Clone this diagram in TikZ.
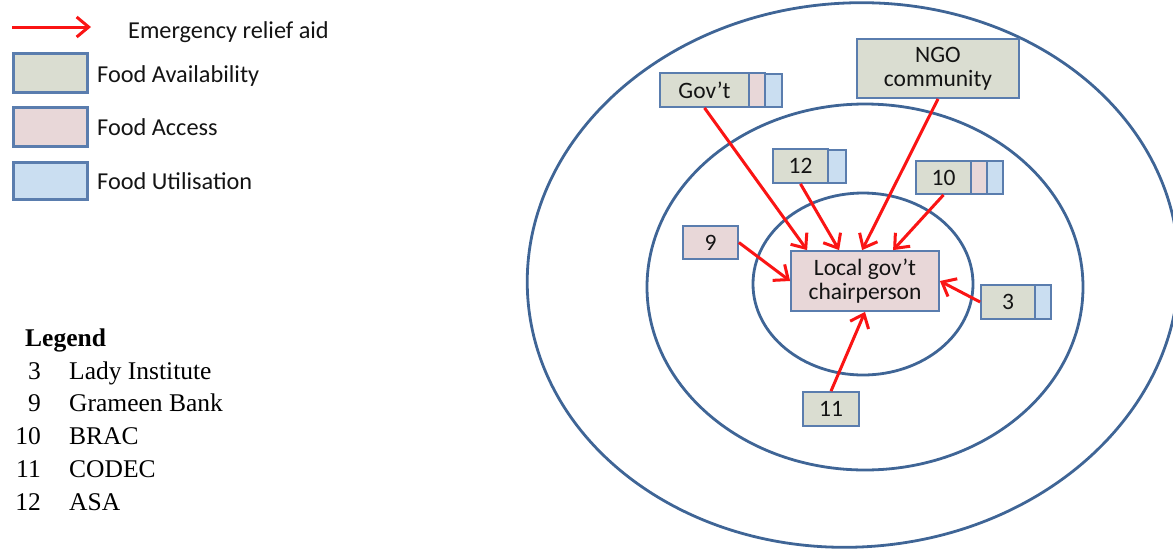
\documentclass[tikz,border=0pt]{standalone}
\usepackage{fontspec}
\setmainfont{Carlito}
\newfontfamily\serifleg{Liberation Serif}
\usetikzlibrary{arrows.meta}

\definecolor{availc}{HTML}{DADDD1}
\definecolor{accessc}{HTML}{E8D7D8}
\definecolor{utilc}{HTML}{CADEF1}
\definecolor{boxline}{HTML}{5A7DAE}
\definecolor{ringc}{HTML}{3F6596}
\definecolor{aidred}{HTML}{FA1414}
\definecolor{txt}{HTML}{141414}

\newcommand{\lblfont}{\fontsize{23.5}{24}\selectfont}
\newcommand{\keyfont}{\fontsize{24.3}{29}\selectfont}
\newcommand{\legfont}{\serifleg\fontsize{25.5}{30}\selectfont}

\tikzset{
  box/.style={draw=boxline, line width=1.8pt, inner sep=0pt, font=\lblfont,
              text=txt, align=center},
  avail/.style={box, fill=availc},
  access/.style={box, fill=accessc},
  util/.style={box, fill=utilc},
  keybox/.style={draw=boxline, line width=3pt, inner sep=0pt,
                 minimum width=74pt},
  keytext/.style={anchor=base west, inner sep=0pt, font=\keyfont, text=txt},
  legtext/.style={inner sep=0pt, font=\legfont, text=black},
  ring/.style={draw=ringc, line width=2.8pt},
  aid/.style={draw=aidred, line width=3pt,
              -{Straight Barb[length=12pt,width=20pt,line width=3pt]}},
}

\begin{document}
\begin{tikzpicture}[x=1pt,y=-1pt]
\path[use as bounding box, clip] (0,0) rectangle (1173,550);

% nested spheres of influence
\draw[ring, rotate around={4:(853,275)}] (853,275)
  ellipse [x radius=326pt, y radius=272pt];
\draw[ring] (865,287) ellipse [x radius=218pt, y radius=183pt];
\draw[ring] (863,284) ellipse [x radius=110pt, y radius=91pt];

% key: arrow and pillar colours
\coordinate (ka) at (12,27);
\coordinate (kb) at (91,27);
\draw[aid] (ka) -- (kb);
\node[keytext] (kaid) at (128,38) {Emergency relief aid};
\node[keybox, fill=availc, minimum height=39pt] (kav) at (50,72.5) {};
\node[keytext] (kavt) at (97,82) {Food Availability};
\node[keybox, fill=accessc, minimum height=39pt] (kac) at (50,126.5) {};
\node[keytext] (kact) at (97,135) {Food Access};
\node[keybox, fill=utilc, minimum height=37pt] (kut) at (50,180.5) {};
\node[keytext] (kutt) at (97,189) {Food Utilisation};

% key: numbered organisations
\node[legtext, anchor=base west, font=\legfont\bfseries] (leg) at (25,346) {Legend};
\node[legtext, anchor=base east] (n3) at (41,379) {3};
\node[legtext, anchor=base west] (o3) at (69,379) {Lady Institute};
\node[legtext, anchor=base east] (n9) at (41,411) {9};
\node[legtext, anchor=base west] (o9) at (69,411) {Grameen Bank};
\node[legtext, anchor=base east] (n10) at (41,444) {10};
\node[legtext, anchor=base west] (o10) at (69,444) {BRAC};
\node[legtext, anchor=base east] (n11) at (41,477) {11};
\node[legtext, anchor=base west] (o11) at (69,477) {CODEC};
\node[legtext, anchor=base east] (n12) at (41,510) {12};
\node[legtext, anchor=base west] (o12) at (69,510) {ASA};

% actors
\node[access, minimum width=148pt, minimum height=60pt] (loc) at (865,281)
  {Local gov’t\\chairperson};

\node[avail, minimum width=89pt, minimum height=34pt] (gov) at (704.5,90) {Gov’t};
\node[access, minimum width=16pt, minimum height=34pt] (govb) at (757,90) {};
\node[util, minimum width=17pt, minimum height=33pt] (govc) at (773.5,90.5) {};

\node[avail, minimum width=162pt, minimum height=59pt] (ngo) at (938,68.5)
  {NGO\\community};

\node[avail, minimum width=55pt, minimum height=34pt] (a12) at (800.5,166) {12};
\node[util, minimum width=18pt, minimum height=33pt] (a12c) at (837,166.5) {};

\node[avail, minimum width=55pt, minimum height=33pt] (a10) at (943.5,177.5) {10};
\node[access, minimum width=16pt, minimum height=33pt] (a10b) at (979,177.5) {};
\node[util, minimum width=16pt, minimum height=33pt] (a10c) at (995,177.5) {};

\node[access, minimum width=55pt, minimum height=33pt] (a9) at (710.5,242.5) {9};

\node[avail, minimum width=54pt, minimum height=34pt] (a3) at (1008,302) {3};
\node[util, minimum width=16pt, minimum height=34pt] (a3c) at (1043,302) {};

\node[avail, minimum width=56pt, minimum height=34pt] (a11) at (831,409) {11};

% relief flows towards the chairperson
\draw[aid] (gov.south) -- ([xshift=17pt]loc.north west);
\draw[aid] (a12.south) -- ([xshift=49pt]loc.north west);
\draw[aid] (ngo.south) -- ([xshift=72pt]loc.north west);
\draw[aid] (a10.south) -- ([xshift=103pt]loc.north west);
\draw[aid] (a9.east) -- (loc.west);
\draw[aid] (a3.west) -- (loc.east);
\draw[aid] (a11.north) -- (loc.south);
\end{tikzpicture}
\end{document}
